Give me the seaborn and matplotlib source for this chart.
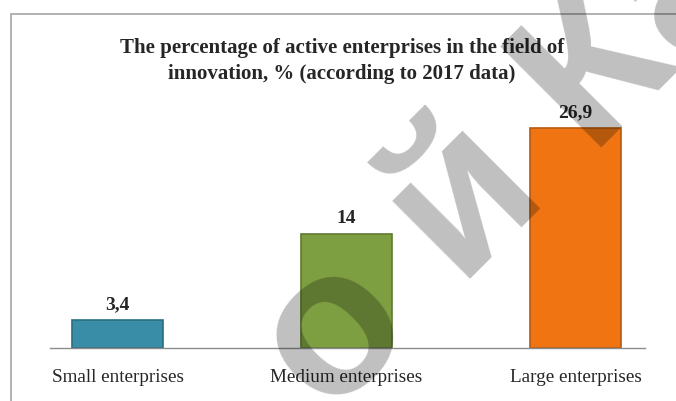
import matplotlib
matplotlib.use("Agg")
import matplotlib.pyplot as plt
import seaborn as sns
from matplotlib.patches import Rectangle

# data
categories = ["Small enterprises", "Medium enterprises", "Large enterprises"]
values = [3.4, 14, 26.9]
bar_colors = ["#3A8DA6", "#7E9E42", "#F07512"]
edge_colors = ["#2A6E82", "#5F7A30", "#B85A0C"]
title = "The percentage of active enterprises in the field of\ninnovation, % (according to 2017 data)"

sns.set_style("white")
plt.rcParams["font.family"] = ["Liberation Serif", "DejaVu Serif"]

fig = plt.figure(figsize=(6.76, 4.01), dpi=100)
ax = fig.add_axes([50 / 676, 53 / 401, 595 / 676, 245 / 401])

sns.barplot(x=categories, y=values, hue=categories, palette=bar_colors,
            legend=False, width=0.4, saturation=1, ax=ax)
for p, ec in zip(ax.patches, edge_colors):
    p.set_edgecolor(ec)
    p.set_linewidth(1.2)

# value labels with decimal comma
labels = [f"{v:g}".replace(".", ",") for v in values]
for cont, lab in zip(ax.containers, labels):
    ax.bar_label(cont, labels=[lab], padding=5, fontsize=14, fontweight="bold")

ax.set_xlim(-0.295, 2.303)
ax.set_ylim(0, 30)
ax.set_yticks([])
ax.tick_params(axis="x", length=0, pad=15, labelsize=13.8)
for s in ["top", "right", "left"]:
    ax.spines[s].set_visible(False)
ax.spines["bottom"].set_color("#8C8C8C")
ax.spines["bottom"].set_linewidth(1)

fig.text(342 / 676, 1 - 61 / 401, title, ha="center", va="center",
         fontsize=15, fontweight="bold", linespacing=1.45)

# outer chart frame
fig.patches.append(Rectangle((11 / 676, -0.1), 1.0, 1.1 - 14 / 401,
                             transform=fig.transFigure, fill=False,
                             edgecolor="#A6A6A6", linewidth=1.2))

# repository watermark
fig.text(330 / 676, 1 - 420 / 401, "о й Ка", rotation=45, rotation_mode="anchor",
         ha="left", va="baseline", fontsize=150, fontweight="bold",
         family="Liberation Sans", color="black", alpha=0.25, zorder=10)

fig.savefig("out.png", dpi=100)
